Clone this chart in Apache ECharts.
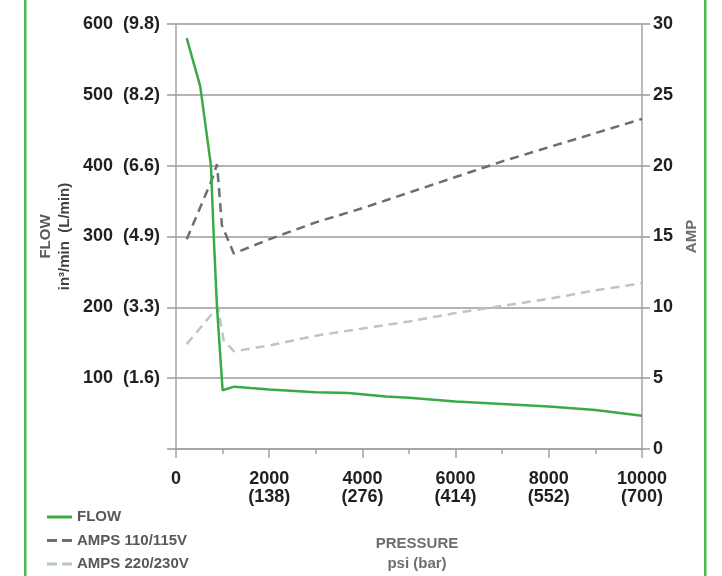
<!DOCTYPE html>
<html><head><meta charset="utf-8">
<script src="https://cdn.jsdelivr.net/npm/echarts@6/dist/echarts.min.js"></script>
<style>html,body{margin:0;padding:0;background:#fff}#c{width:722px;height:576px}</style>
</head><body><div id="c"></div>
<script>
// Tick labels
const pressureTicks = [0, 2000, 4000, 6000, 8000, 10000];
const barLabels = ['', '(138)', '(276)', '(414)', '(552)', '(700)'];
const flowTicks = [0, 100, 200, 300, 400, 500, 600];
const lpmLabels = ['', '(1.6)', '(3.3)', '(4.9)', '(6.6)', '(8.2)', '(9.8)'];

// Series: FLOW (in3/min) vs pressure (psi)
const flowPsi = [230, 520, 750, 810, 880, 1000, 1250, 1600, 2000, 3000, 3700, 4500, 5000, 6000, 7000, 8000, 9000, 10000];
const flowVal = [580, 512, 400, 300, 200, 83, 88, 86, 84, 80, 79, 74, 72.5, 67, 63.5, 60, 55, 47];
// AMPS 110/115V
const amp110Psi = [230, 770, 880, 985, 1240, 2000, 3000, 4000, 5000, 6000, 7000, 8000, 9000, 10000];
const amp110Val = [14.8, 19.0, 20.1, 15.8, 13.8, 14.8, 16.0, 17.0, 18.1, 19.2, 20.3, 21.3, 22.3, 23.3];
// AMPS 220/230V
const amp220Psi = [230, 900, 1020, 1240, 2000, 3000, 4000, 5000, 6000, 7000, 8000, 9000, 10000];
const amp220Val = [7.4, 10.05, 7.7, 6.9, 7.3, 8.0, 8.5, 9.0, 9.6, 10.1, 10.6, 11.2, 11.7];

const F = "'Liberation Sans', Arial, sans-serif";
const AX = '#a3a3a3';
const GRID = '#9a9a9a';
const SOLID = 'path://M0,0H25V3H0Z';
const DASH = 'path://M0,0H10V3H0Z M15,0H25V3H15Z';

const chart = echarts.init(document.getElementById('c'), null, {renderer: 'canvas'});
chart.setOption({
  animation: false,
  backgroundColor: '#fff',
  grid: {left: 176, right: 80, top: 24, bottom: 127, outerBoundsMode: 'none', containLabel: false},
  legend: {
    orient: 'vertical', left: 47, top: 508, padding: 0,
    itemWidth: 25, itemHeight: 3, itemGap: 5.5,
    textStyle: {fontFamily: F, fontWeight: 'bold', fontSize: 15, color: '#58595b', lineHeight: 18},
    data: [
      {name: 'FLOW', icon: SOLID},
      {name: 'AMPS 110/115V', icon: DASH},
      {name: 'AMPS 220/230V', icon: DASH}
    ]
  },
  xAxis: {
    type: 'value', min: 0, max: 10000, interval: 2000,
    axisLine: {show: true, onZero: false, lineStyle: {color: AX, width: 1.5}},
    axisTick: {show: true, length: 9, lineStyle: {color: AX, width: 1.5}},
    minorTick: {show: true, splitNumber: 2, length: 5, lineStyle: {color: AX, width: 1.5}},
    splitLine: {show: false},
    axisLabel: {
      margin: 21, fontFamily: F, fontWeight: 'bold', fontSize: 18, color: '#231f20', lineHeight: 18,
      formatter: v => { const i = pressureTicks.indexOf(v); return i <= 0 ? String(v) : v + '\n' + barLabels[i]; }
    },
    name: 'PRESSURE\npsi (bar)', nameLocation: 'middle', nameGap: 85,
    nameTextStyle: {fontFamily: F, fontWeight: 'bold', fontSize: 15, color: '#6d6e71', lineHeight: 20, padding: [0, 0, 0, 16]}
  },
  yAxis: [{
    type: 'value', min: 0, max: 600, interval: 100, position: 'left',
    axisLine: {show: true, lineStyle: {color: AX, width: 1.5}},
    axisTick: {show: true, length: 9, lineStyle: {color: GRID, width: 1.5}},
    splitLine: {show: true, lineStyle: {color: GRID, width: 1.5}},
    axisLabel: {
      margin: 16, fontFamily: F, fontWeight: 'bold', fontSize: 18, color: '#231f20',
      formatter: v => { const i = flowTicks.indexOf(v); return i <= 0 ? '' : v + '  ' + lpmLabels[i]; }
    },
    name: '{a|FLOW}\n{b|in³/min  (L/min)}', nameLocation: 'middle', nameRotate: 90, nameGap: 82,
    nameTextStyle: {
      rich: {
        a: {fontFamily: F, fontWeight: 'bold', fontSize: 15, color: '#58595b', lineHeight: 19},
        b: {fontFamily: F, fontWeight: 'bold', fontSize: 15, color: '#414042', lineHeight: 19}
      }
    }
  }, {
    type: 'value', min: 0, max: 30, interval: 5, position: 'right',
    axisLine: {show: true, lineStyle: {color: AX, width: 1.5}},
    axisTick: {show: true, length: 8, lineStyle: {color: GRID, width: 1.5}},
    splitLine: {show: false},
    axisLabel: {margin: 11, fontFamily: F, fontWeight: 'bold', fontSize: 18, color: '#231f20'},
    name: 'AMP', nameLocation: 'middle', nameRotate: 90, nameGap: 34,
    nameTextStyle: {fontFamily: F, fontWeight: 'bold', fontSize: 15, color: '#6d6e71'}
  }],
  graphic: [
    {type: 'rect', shape: {x: 24, y: 0, width: 2.5, height: 576}, style: {fill: '#4cb848'}, silent: true},
    {type: 'rect', shape: {x: 704, y: 0, width: 2.5, height: 576}, style: {fill: '#4cb848'}, silent: true}
  ],
  series: [{
    name: 'AMPS 110/115V', type: 'line', yAxisIndex: 1, symbol: 'none',
    data: amp110Psi.map((x, i) => [x, amp110Val[i]]),
    lineStyle: {color: '#6d6e71', width: 2.5, type: [9, 6]}, itemStyle: {color: '#6d6e71'}, z: 2
  }, {
    name: 'AMPS 220/230V', type: 'line', yAxisIndex: 1, symbol: 'none',
    data: amp220Psi.map((x, i) => [x, amp220Val[i]]),
    lineStyle: {color: '#b7c7cd', width: 2.5, type: [9, 6]}, itemStyle: {color: '#b7c7cd'}, z: 2
  }, {
    name: 'FLOW', type: 'line', yAxisIndex: 0, symbol: 'none',
    data: flowPsi.map((x, i) => [x, flowVal[i]]),
    lineStyle: {color: '#3aaa47', width: 2.5}, itemStyle: {color: '#3aaa47'}, z: 3
  }]
});
</script>
</body></html>
